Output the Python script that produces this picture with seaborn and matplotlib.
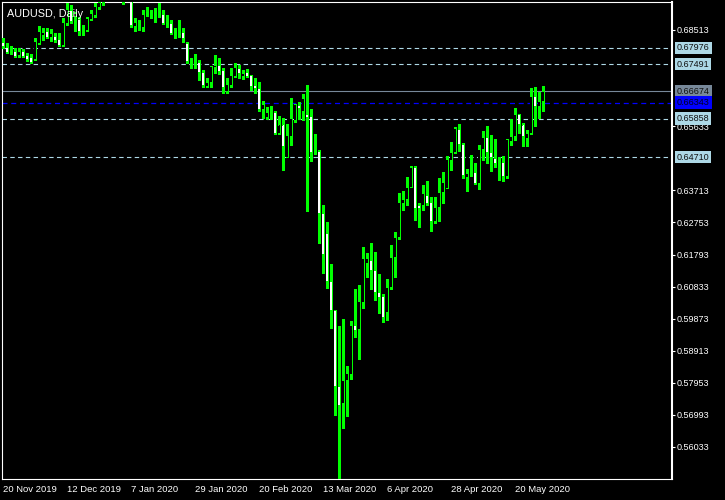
import matplotlib
matplotlib.use("Agg")
import matplotlib.pyplot as plt
import seaborn as sns

# AUDUSD daily candles, 20 Nov 2019 .. 29 May 2020
opens = [0.6815, 0.6800, 0.6785, 0.6788, 0.6776, 0.6788, 0.6776, 0.6770, 0.6764, 0.6812,
         0.6836, 0.6848, 0.6830, 0.6833, 0.6824, 0.6806, 0.6872, 0.6911, 0.6893, 0.6884,
         0.6851, 0.6851, 0.6884, 0.6896, 0.6920, 0.6935, 0.6950, 0.6980, 0.7005, 0.7020,
         0.6990, 0.6950, 0.6955, 0.6863, 0.6872, 0.6860, 0.6899, 0.6902, 0.6899, 0.6896,
         0.6899, 0.6881, 0.6872, 0.6845, 0.6839, 0.6845, 0.6812, 0.6758, 0.6755, 0.6755,
         0.6723, 0.6681, 0.6693, 0.6738, 0.6744, 0.6729, 0.6666, 0.6684, 0.6711, 0.6735,
         0.6711, 0.6723, 0.6714, 0.6684, 0.6675, 0.6612, 0.6588, 0.6603, 0.6603, 0.6543,
         0.6567, 0.6471, 0.6534, 0.6579, 0.6624, 0.6606, 0.6597, 0.6591, 0.6486, 0.6489,
         0.6303, 0.6241, 0.6100, 0.6013, 0.5783, 0.5732, 0.5801, 0.5819, 0.5968, 0.5956,
         0.6037, 0.6151, 0.6160, 0.6133, 0.6067, 0.6055, 0.6007, 0.6082, 0.6169, 0.6229,
         0.6333, 0.6345, 0.6381, 0.6441, 0.6327, 0.6327, 0.6357, 0.6336, 0.6277, 0.6321,
         0.6366, 0.6378, 0.6462, 0.6486, 0.6555, 0.6510, 0.6411, 0.6429, 0.6426, 0.6393,
         0.6495, 0.6531, 0.6486, 0.6468, 0.6459, 0.6456, 0.6414, 0.6519, 0.6534, 0.6597,
         0.6567, 0.6528, 0.6543, 0.6651, 0.6621, 0.6636]
highs = [0.6827, 0.6812, 0.6803, 0.6797, 0.6797, 0.6794, 0.6782, 0.6779, 0.6827, 0.6863,
         0.6857, 0.6857, 0.6854, 0.6842, 0.6842, 0.6887, 0.6932, 0.6926, 0.6905, 0.6890,
         0.6866, 0.6890, 0.6911, 0.6932, 0.6950, 0.6960, 0.6985, 0.7010, 0.7032, 0.7025,
         0.6995, 0.6975, 0.6965, 0.6887, 0.6881, 0.6911, 0.6920, 0.6911, 0.6917, 0.6932,
         0.6911, 0.6896, 0.6881, 0.6857, 0.6881, 0.6857, 0.6815, 0.6767, 0.6779, 0.6761,
         0.6732, 0.6708, 0.6744, 0.6776, 0.6767, 0.6738, 0.6708, 0.6738, 0.6752, 0.6746,
         0.6732, 0.6735, 0.6717, 0.6708, 0.6696, 0.6639, 0.6621, 0.6624, 0.6609, 0.6594,
         0.6588, 0.6570, 0.6648, 0.6630, 0.6636, 0.6660, 0.6687, 0.6615, 0.6540, 0.6492,
         0.6327, 0.6277, 0.6151, 0.6013, 0.5965, 0.5986, 0.5846, 0.5980, 0.6076, 0.6088,
         0.6202, 0.6184, 0.6214, 0.6187, 0.6121, 0.6061, 0.6106, 0.6208, 0.6247, 0.6363,
         0.6369, 0.6411, 0.6444, 0.6444, 0.6333, 0.6387, 0.6399, 0.6351, 0.6351, 0.6408,
         0.6426, 0.6474, 0.6516, 0.6561, 0.6570, 0.6513, 0.6435, 0.6477, 0.6453, 0.6507,
         0.6549, 0.6564, 0.6537, 0.6525, 0.6471, 0.6474, 0.6525, 0.6585, 0.6618, 0.6600,
         0.6573, 0.6552, 0.6678, 0.6681, 0.6666, 0.6684]
lows = [0.6798, 0.6782, 0.6779, 0.6770, 0.6770, 0.6770, 0.6758, 0.6752, 0.6761, 0.6810,
        0.6821, 0.6827, 0.6818, 0.6815, 0.6803, 0.6803, 0.6866, 0.6872, 0.6848, 0.6836,
        0.6836, 0.6848, 0.6881, 0.6890, 0.6915, 0.6926, 0.6945, 0.6970, 0.6995, 0.6980,
        0.6930, 0.6937, 0.6860, 0.6848, 0.6851, 0.6848, 0.6893, 0.6887, 0.6875, 0.6890,
        0.6869, 0.6860, 0.6839, 0.6827, 0.6830, 0.6815, 0.6752, 0.6738, 0.6738, 0.6702,
        0.6681, 0.6681, 0.6681, 0.6723, 0.6720, 0.6663, 0.6663, 0.6681, 0.6711, 0.6708,
        0.6705, 0.6711, 0.6672, 0.6663, 0.6609, 0.6588, 0.6585, 0.6585, 0.6540, 0.6540,
        0.6432, 0.6471, 0.6507, 0.6576, 0.6585, 0.6582, 0.6309, 0.6459, 0.6480, 0.6214,
        0.6124, 0.6079, 0.5959, 0.5699, 0.5506, 0.5660, 0.5696, 0.5807, 0.5932, 0.5866,
        0.6019, 0.6112, 0.6076, 0.6043, 0.6004, 0.5977, 0.5983, 0.6076, 0.6112, 0.6226,
        0.6312, 0.6327, 0.6381, 0.6283, 0.6262, 0.6312, 0.6327, 0.6250, 0.6274, 0.6280,
        0.6333, 0.6378, 0.6432, 0.6483, 0.6489, 0.6408, 0.6369, 0.6414, 0.6390, 0.6375,
        0.6462, 0.6453, 0.6429, 0.6441, 0.6402, 0.6399, 0.6408, 0.6507, 0.6522, 0.6543,
        0.6504, 0.6504, 0.6540, 0.6564, 0.6588, 0.6609]
closes = [0.6803, 0.6785, 0.6786, 0.6773, 0.6788, 0.6773, 0.6764, 0.6755, 0.6818, 0.6848,
          0.6845, 0.6830, 0.6842, 0.6821, 0.6806, 0.6875, 0.6914, 0.6878, 0.6902, 0.6848,
          0.6857, 0.6887, 0.6902, 0.6923, 0.6935, 0.6945, 0.6980, 0.7005, 0.7020, 0.6990,
          0.6950, 0.6960, 0.6866, 0.6875, 0.6866, 0.6899, 0.6905, 0.6896, 0.6902, 0.6902,
          0.6872, 0.6884, 0.6842, 0.6842, 0.6845, 0.6827, 0.6758, 0.6752, 0.6758, 0.6723,
          0.6684, 0.6693, 0.6741, 0.6746, 0.6726, 0.6678, 0.6687, 0.6714, 0.6738, 0.6720,
          0.6720, 0.6711, 0.6681, 0.6675, 0.6612, 0.6627, 0.6603, 0.6604, 0.6543, 0.6567,
          0.6504, 0.6537, 0.6585, 0.6627, 0.6615, 0.6645, 0.6588, 0.6486, 0.6483, 0.6303,
          0.6178, 0.6100, 0.6013, 0.5783, 0.5726, 0.5801, 0.5822, 0.5968, 0.5953, 0.6040,
          0.6166, 0.6166, 0.6130, 0.6067, 0.6052, 0.5992, 0.6082, 0.6169, 0.6229, 0.6336,
          0.6345, 0.6381, 0.6441, 0.6318, 0.6318, 0.6363, 0.6333, 0.6277, 0.6321, 0.6366,
          0.6396, 0.6465, 0.6486, 0.6558, 0.6510, 0.6417, 0.6423, 0.6423, 0.6393, 0.6495,
          0.6531, 0.6486, 0.6471, 0.6453, 0.6453, 0.6414, 0.6525, 0.6534, 0.6597, 0.6567,
          0.6534, 0.6543, 0.6651, 0.6621, 0.6636, 0.6667]

tick_labels = ["20 Nov 2019", "12 Dec 2019", "7 Jan 2020", "29 Jan 2020", "20 Feb 2020",
               "13 Mar 2020", "6 Apr 2020", "28 Apr 2020", "20 May 2020"]
# scale labels that are not hidden under the price boxes
price_ticks = [0.68513, 0.65633, 0.63713, 0.62753, 0.61793, 0.60833,
               0.59873, 0.58913, 0.57953, 0.56993, 0.56033]

levels = [0.67976, 0.67491, 0.65858, 0.64710]
bid_price = 0.66674
ask_price = 0.66343

GREEN = "#00ff00"
LIGHTBLUE = "#add8e6"
YMIN, YMAX = 0.55075, 0.69351
ONE_PX = (YMAX - YMIN) / 477  # price span of one pixel row

sns.set_theme(style="dark", rc={"axes.facecolor": "black", "figure.facecolor": "black",
                                "axes.edgecolor": "white", "text.color": "white",
                                "xtick.color": "white", "ytick.color": "white"})
plt.rcParams["font.family"] = ["Liberation Sans", "DejaVu Sans"]

fig = plt.figure(figsize=(7.25, 5), dpi=100)
ax = fig.add_axes([2 / 725, 21 / 500, 670 / 725, 477 / 500])

xs = list(range(len(closes)))

# wicks
ax.vlines(xs, lows, highs, color=GREEN, linewidth=0.75, antialiased=False, zorder=3)

# bodies: green outer block, then a thin core (black for up days, white for down days)
bottoms = [min(o, c) for o, c in zip(opens, closes)]
heights = [max(abs(c - o), ONE_PX) for o, c in zip(opens, closes)]
ax.bar(xs, heights, bottom=bottoms, width=0.8, color=GREEN, linewidth=0,
       antialiased=False, zorder=4)
cores = [(x, b + ONE_PX, h - 2 * ONE_PX, "black" if c >= o else "white")
         for x, b, h, o, c in zip(xs, bottoms, heights, opens, closes) if h > 2.5 * ONE_PX]
core_bars = ax.bar([k[0] for k in cores], [k[2] for k in cores],
                   bottom=[k[1] for k in cores], width=0.32,
                   color=[k[3] for k in cores], linewidth=0, antialiased=False, zorder=5)
for patch in core_bars:
    patch.set_snap(False)

# level lines
for lv in levels:
    ax.axhline(lv, color=LIGHTBLUE, linewidth=0.8, linestyle=(0, (4, 3)), zorder=2)
ax.axhline(bid_price, color="#778899", linewidth=0.8, zorder=2)
ax.axhline(ask_price, color="#0000ff", linewidth=0.9, linestyle=(0, (4, 3)), zorder=2)

ax.set_xlim(-0.3, 167.2)
ax.set_ylim(YMIN, YMAX)

# axes styling
for side in ["left", "top", "bottom", "right"]:
    ax.spines[side].set_color("white")
    ax.spines[side].set_linewidth(0.8)
ax.spines["right"].set_linewidth(1.5)
ax.grid(False)

ax.yaxis.tick_right()
ax.set_yticks(price_ticks)
ax.set_yticklabels([f"{p:.5f}" for p in price_ticks])
ax.tick_params(axis="y", direction="out", length=2.5, width=0.8, pad=0.5,
               labelsize=6.5, colors="white")

ax.set_xticks(range(0, 16 * len(tick_labels), 16))
ax.set_xticklabels(tick_labels, ha="left")
ax.tick_params(axis="x", direction="out", length=3, width=0.8, pad=1.5,
               labelsize=6.8, colors="white")


# price boxes on the right
def price_box(price, face, text_color):
    ax.annotate(f"{price:.5f}", xy=(1, price), xycoords=("axes fraction", "data"),
                xytext=(5, 0), textcoords="offset pixels", ha="left", va="center",
                fontsize=6.5, color=text_color, annotation_clip=False, zorder=10,
                bbox=dict(boxstyle="square,pad=0.2", fc=face, ec="none"))


for lv in levels:
    price_box(lv, LIGHTBLUE, "#101010")
price_box(bid_price, "#778899", "#101010")
price_box(ask_price, "#0000ff", "#000020")

ax.text(0.007, 0.985, "AUDUSD, Daily", transform=ax.transAxes, ha="left", va="top",
        fontsize=7.8, color="white", zorder=10)

fig.savefig("out.png", dpi=100, facecolor="black")
